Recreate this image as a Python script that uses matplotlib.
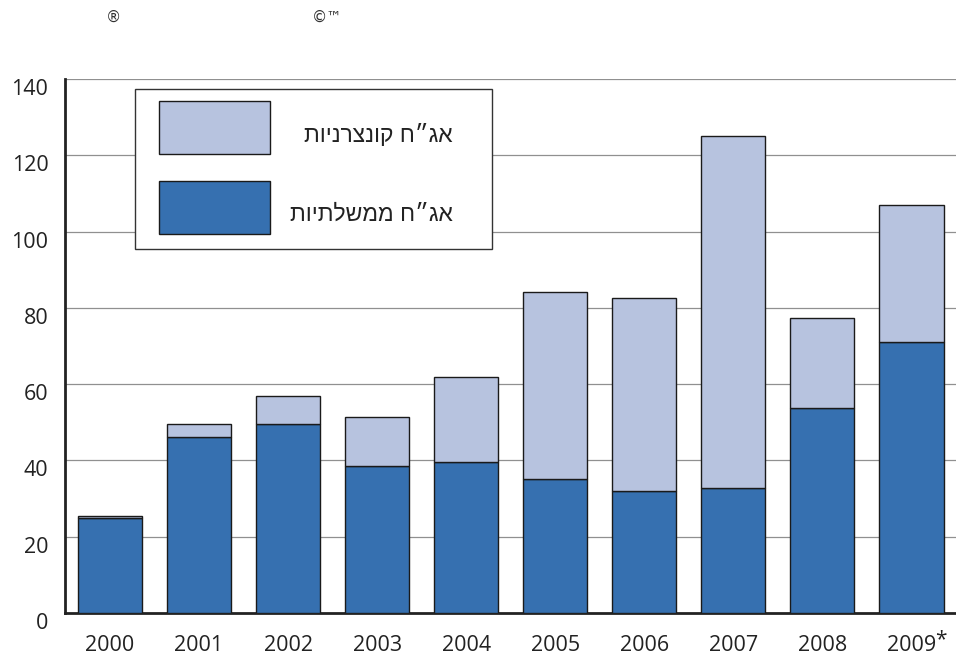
import matplotlib
matplotlib.use("Agg")
import matplotlib.pyplot as plt
import matplotlib.transforms as mtransforms
from matplotlib.patches import Rectangle
import numpy as np

# government vs corporate bond volumes by year (stacked)
years = ["2000", "2001", "2002", "2003", "2004", "2005", "2006", "2007", "2008", "2009"]
gov = [24.8, 46.1, 49.6, 38.5, 39.6, 35.1, 32.0, 32.8, 53.7, 71.1]
total = [25.3, 49.6, 56.9, 51.4, 61.9, 84.2, 82.6, 125.1, 77.3, 107.0]
corp = [t - g for t, g in zip(total, gov)]
y_ticks = [0, 20, 40, 60, 80, 100, 120, 140]

LBL_CORP = "אג״ח קונצרניות"
LBL_GOV = "אג״ח ממשלתיות"

DARK = "#3670b0"
LIGHT = "#b7c3df"
EDGE = "#1a1a1a"
TICK_FONT = "Open Sans"


def rtl(s):
    # matplotlib has no bidi, reverse hebrew for visual order
    return s[::-1]


fig = plt.figure(figsize=(9.56, 6.62), dpi=100)
ax = fig.add_axes([65 / 956, 49 / 662, 1 - 65 / 956, 534 / 662])

x = np.arange(len(years))
ax.bar(x, gov, width=0.72, color=DARK, edgecolor=EDGE, linewidth=1.0, zorder=3)
ax.bar(x, corp, bottom=gov, width=0.72, color=LIGHT, edgecolor=EDGE, linewidth=1.0, zorder=3)

ax.set_xlim(-0.505, 9.5)
ax.set_ylim(0, 140)
ax.set_yticks(y_ticks)
ax.set_xticks(x)
ax.set_xticklabels(years)
for yv in y_ticks[1:]:
    ax.axhline(yv, color="#909090", linewidth=0.9, zorder=1)

for s in ["top", "right"]:
    ax.spines[s].set_visible(False)
ax.spines["left"].set_linewidth(2.0)
ax.spines["bottom"].set_linewidth(2.0)
ax.spines["left"].set_color("#222222")
ax.spines["bottom"].set_color("#222222")
ax.tick_params(axis="both", length=0, labelsize=15.5, colors="#222222")
ax.tick_params(axis="y", pad=12)
ax.tick_params(axis="x", pad=16)
for lab in ax.get_yticklabels() + ax.get_xticklabels():
    lab.set_fontfamily(TICK_FONT)
# y labels sit a little under their gridlines
off = mtransforms.ScaledTranslation(0, -8 / 100, fig.dpi_scale_trans)
for lab in ax.get_yticklabels():
    lab.set_transform(lab.get_transform() + off)

# asterisk on 2009
fig.text(941 / 956, 1 - 640 / 662, "*", fontsize=15, family=TICK_FONT,
         ha="center", va="center", color="#222222")


# legend drawn by hand so labels can be right aligned
def fx(px):
    return px / 956


def fy(py):
    return 1 - py / 662


fig.patches.append(Rectangle((fx(135), fy(249)), fx(492) - fx(135), fy(89) - fy(249),
                             transform=fig.transFigure, facecolor="white",
                             edgecolor="#333333", linewidth=1.0, zorder=5))
for top, col, lbl, ty in [(101, LIGHT, LBL_CORP, 136), (181, DARK, LBL_GOV, 214)]:
    fig.patches.append(Rectangle((fx(159), fy(top + 53)), fx(270) - fx(159), fy(top) - fy(top + 53),
                                 transform=fig.transFigure, facecolor=col,
                                 edgecolor=EDGE, linewidth=1.0, zorder=6))
    fig.text(fx(453), fy(ty), rtl(lbl), fontsize=16.5, family=["Liberation Sans", "DejaVu Sans"],
             ha="right", va="center", color="#222222", zorder=7)

# stray symbols at the top
fig.text(fx(113), fy(17), "®", fontsize=11, ha="center", va="center", color="#333333")
fig.text(fx(327), fy(17), "©™", fontsize=11, ha="center", va="center", color="#333333")

fig.savefig("out.png", dpi=100)
